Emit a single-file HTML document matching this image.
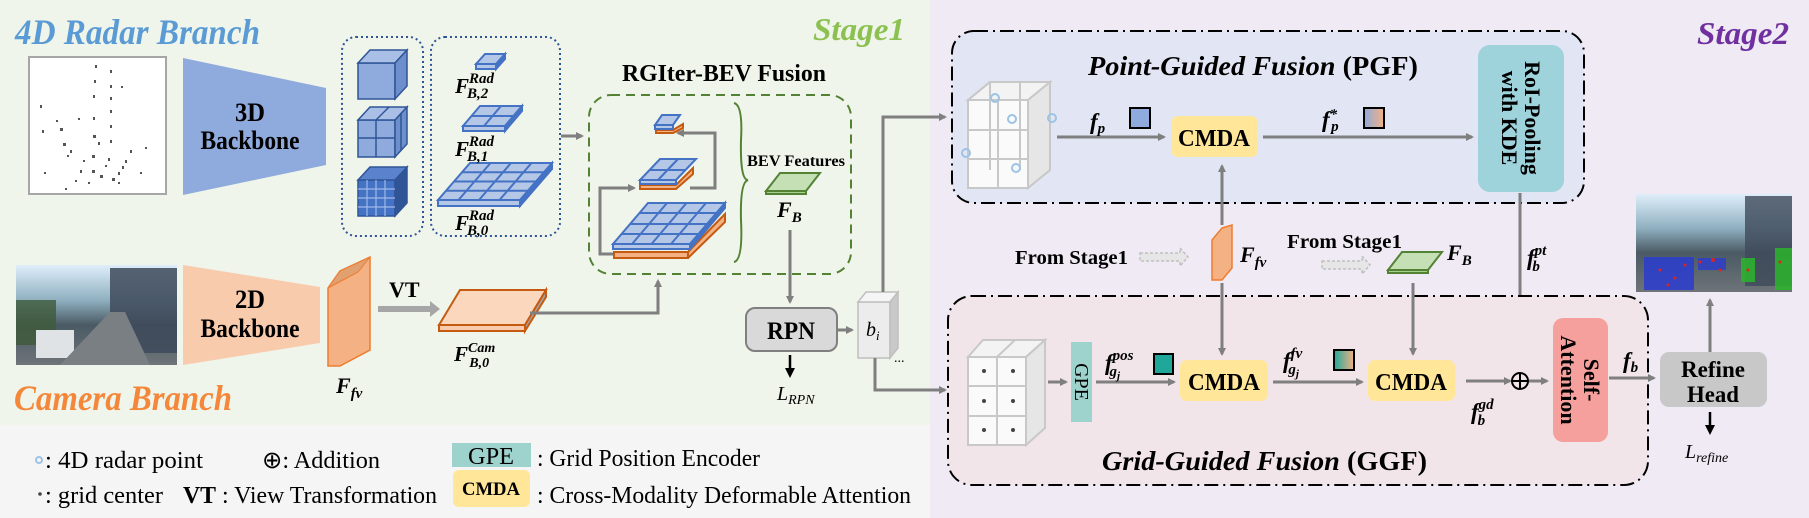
<!DOCTYPE html>
<html><head><meta charset="utf-8"><style>
html,body{margin:0;padding:0;background:#fff}
svg{display:block}
text{font-family:"Liberation Serif",serif}
</style></head><body>
<svg width="1809" height="518" viewBox="0 0 1809 518" xmlns="http://www.w3.org/2000/svg">
<defs>
<marker id="ah" markerWidth="8" markerHeight="8" refX="6" refY="4" orient="auto" markerUnits="userSpaceOnUse"><path d="M0,0 L8,4 L0,8 Z" fill="#7f7f7f"/></marker>
<marker id="ahk" markerWidth="10" markerHeight="10" refX="7" refY="5" orient="auto" markerUnits="userSpaceOnUse"><path d="M0,0 L10,5 L0,10 Z" fill="#000"/></marker>
<linearGradient id="g1" x1="0" x2="1"><stop offset="0" stop-color="#8faadc"/><stop offset="1" stop-color="#f4b183"/></linearGradient>
<linearGradient id="g2" x1="0" x2="1"><stop offset="0" stop-color="#1fa89a"/><stop offset="1" stop-color="#f4b183"/></linearGradient>
<linearGradient id="cam" x1="0" y1="0" x2="0" y2="1"><stop offset="0" stop-color="#dfeefa"/><stop offset="0.35" stop-color="#8fb0c0"/><stop offset="0.6" stop-color="#4a5a64"/><stop offset="1" stop-color="#6e7478"/></linearGradient>
</defs>
<rect x="0" y="0" width="930" height="425" fill="#eff5ea"/>
<rect x="0" y="425" width="930" height="93" fill="#f5f5f5"/>
<rect x="930" y="0" width="879" height="518" fill="#efeaf4"/>

<text x="15" y="44" font-size="36" font-style="italic" font-weight="bold" fill="#5b9bd5" textLength="245" lengthAdjust="spacingAndGlyphs">4D Radar Branch</text>
<text x="14" y="410" font-size="36" font-style="italic" font-weight="bold" fill="#f4873a" textLength="218" lengthAdjust="spacingAndGlyphs">Camera Branch</text>
<text x="813" y="40" font-size="32" font-style="italic" font-weight="bold" fill="#8cc152" textLength="92" lengthAdjust="spacingAndGlyphs">Stage1</text>
<text x="1697" y="44" font-size="32" font-style="italic" font-weight="bold" fill="#7030a0" textLength="92" lengthAdjust="spacingAndGlyphs">Stage2</text>

<rect x="29" y="57" width="137" height="137" fill="#fff" stroke="#a6a6a6" stroke-width="2"/>
<g fill="#555">
<rect x="95" y="65" width="2" height="3"/><rect x="110" y="70" width="2" height="3"/><rect x="94" y="80" width="2" height="3"/><rect x="110" y="85" width="2" height="3"/><rect x="121" y="86" width="2" height="2"/><rect x="93" y="95" width="2" height="3"/><rect x="110" y="97" width="2" height="3"/><rect x="40" y="105" width="2" height="3"/><rect x="110" y="110" width="2" height="3"/><rect x="93" y="117" width="2" height="3"/><rect x="78" y="118" width="2" height="2"/><rect x="60" y="128" width="3" height="3"/><rect x="42" y="130" width="2" height="3"/><rect x="93" y="135" width="3" height="3"/><rect x="110" y="125" width="2" height="3"/><rect x="63" y="143" width="3" height="3"/><rect x="70" y="150" width="2" height="3"/><rect x="98" y="142" width="2" height="3"/><rect x="110" y="140" width="2" height="3"/><rect x="130" y="150" width="2" height="3"/><rect x="145" y="147" width="2" height="2"/><rect x="92" y="155" width="3" height="3"/><rect x="108" y="158" width="2" height="3"/><rect x="125" y="160" width="2" height="3"/><rect x="80" y="170" width="2" height="3"/><rect x="92" y="170" width="3" height="3"/><rect x="100" y="175" width="3" height="3"/><rect x="112" y="178" width="3" height="3"/><rect x="118" y="172" width="2" height="3"/><rect x="122" y="166" width="2" height="3"/><rect x="75" y="180" width="2" height="2"/><rect x="65" y="188" width="2" height="2"/><rect x="44" y="172" width="2" height="2"/><rect x="140" y="172" width="2" height="2"/><rect x="88" y="182" width="2" height="2"/><rect x="105" y="165" width="2" height="2"/><rect x="56" y="120" width="2" height="2"/><rect x="67" y="155" width="2" height="2"/><rect x="83" y="160" width="2" height="2"/><rect x="118" y="182" width="2" height="2"/>
</g>
<polygon points="183,58 326,88 326,165 183,195" fill="#8faadc"/>
<text x="250" y="121" font-size="26" font-weight="bold" text-anchor="middle" textLength="30" lengthAdjust="spacingAndGlyphs">3D</text>
<text x="250" y="149" font-size="26" font-weight="bold" text-anchor="middle" textLength="99" lengthAdjust="spacingAndGlyphs">Backbone</text>
<rect x="16" y="265" width="161" height="100" fill="url(#cam)"/>
<rect x="110" y="268" width="67" height="85" fill="#3e4a5a" opacity="0.85"/>
<rect x="16" y="300" width="40" height="45" fill="#3f5a3a" opacity="0.8"/>
<rect x="36" y="330" width="38" height="28" fill="#dfe3e6"/>
<polygon points="60,365 110,312 125,312 150,365" fill="#7a7f83"/>
<polygon points="183,265 320,287 320,343 183,365" fill="#f8cbad"/>
<text x="250" y="308" font-size="26" font-weight="bold" text-anchor="middle" textLength="30" lengthAdjust="spacingAndGlyphs">2D</text>
<text x="250" y="337" font-size="26" font-weight="bold" text-anchor="middle" textLength="99" lengthAdjust="spacingAndGlyphs">Backbone</text>
<polygon points="328,288 340,271 370,257 370,350 340,366 328,366" fill="#f4b183" stroke="#ed7d31" stroke-width="1.5"/>
<polygon points="328,288 358,272 370,257 340,271" fill="#e0a070" stroke="#ed7d31" stroke-width="1"/>
<text x="336" y="393" font-size="22" font-weight="bold" font-style="italic">F<tspan font-size="15" dy="5">fv</tspan></text>
<text x="389" y="297" font-size="22" font-weight="bold">VT</text>
<line x1="378" y1="309" x2="432" y2="309" stroke="#a6a6a6" stroke-width="6"/>
<polygon points="430,301 440,309 430,317" fill="#a6a6a6"/>
<polygon points="439,325 460,290 546,290 525,325" fill="#fbd7bd" stroke="#c55a11" stroke-width="2"/>
<polygon points="439,325 525,325 525,331 439,331" fill="#f8cbad" stroke="#c55a11" stroke-width="2"/>
<polygon points="525,325 546,290 546,297 525,331" fill="#a6a6a6" stroke="#c55a11" stroke-width="2"/>
<text x="454" y="361" font-size="21" font-weight="bold" font-style="italic">F<tspan font-size="14" dy="-9">Cam</tspan><tspan font-size="14" dx="-26" dy="15">B,0</tspan></text>
<polyline points="530,313 658,313 658,281" fill="none" stroke="#7f7f7f" stroke-width="3" marker-end="url(#ah)"/>

<rect x="342" y="37" width="81" height="199" rx="14" fill="none" stroke="#2f5597" stroke-width="2" stroke-dasharray="2,3"/>
<rect x="431" y="37" width="129" height="199" rx="14" fill="none" stroke="#2f5597" stroke-width="2" stroke-dasharray="2,3"/>
<g stroke="#2f5597" stroke-width="1.5">
<rect x="358" y="63" width="37" height="36" fill="#8faadc"/>
<polygon points="358,63 370,50 407,50 395,63" fill="#a9bfe6"/>
<polygon points="395,63 407,50 407,86 395,99" fill="#6d8fcc"/>
<rect x="358" y="120" width="37" height="37" fill="#8faadc"/>
<polygon points="358,120 370,107 407,107 395,120" fill="#a9bfe6"/>
<polygon points="395,120 407,107 407,144 395,157" fill="#6d8fcc"/>
<line x1="376" y1="120" x2="376" y2="157"/><line x1="358" y1="138" x2="395" y2="138"/><line x1="376" y1="120" x2="389" y2="107"/><line x1="401" y1="113" x2="401" y2="150"/>
<rect x="358" y="180" width="37" height="36" fill="#4472c4"/>
<polygon points="358,180 370,167 407,167 395,180" fill="#5b82cc"/>
<polygon points="395,180 407,167 407,203 395,216" fill="#2f5597"/>
</g>
<g stroke="#9fb8e6" stroke-width="1.2"><line x1="367" y1="180" x2="367" y2="216"/><line x1="376" y1="180" x2="376" y2="216"/><line x1="385" y1="180" x2="385" y2="216"/><line x1="358" y1="189" x2="395" y2="189"/><line x1="358" y1="198" x2="395" y2="198"/><line x1="358" y1="207" x2="395" y2="207"/></g>
<g stroke="#4472c4" stroke-width="2" fill="#b4c7e7">
<polygon points="476,64 496,64 505,54 485,54"/><polygon points="476,64 496,64 496,69 476,69"/><polygon points="496,64 505,54 505,59 496,69" fill="#4472c4"/>
<polygon points="463,126 505,126 522,106 480,106"/><polygon points="463,126 505,126 505,131 463,131"/><polygon points="505,126 522,106 522,111 505,131" fill="#4472c4"/>
<line x1="484" y1="126" x2="501" y2="106"/><line x1="471.5" y1="116" x2="513.5" y2="116"/>
<polygon points="438,200 520,200 552,163 470,163"/><polygon points="438,200 520,200 520,206 438,206"/><polygon points="520,200 552,163 552,169 520,206" fill="#4472c4"/>
<line x1="458.5" y1="200" x2="490.5" y2="163"/><line x1="479" y1="200" x2="511" y2="163"/><line x1="499.5" y1="200" x2="531.5" y2="163"/>
<line x1="446" y1="190.75" x2="528" y2="190.75"/><line x1="454" y1="181.5" x2="536" y2="181.5"/><line x1="462" y1="172.25" x2="544" y2="172.25"/>
</g>
<g font-size="21" font-weight="bold" font-style="italic">
<text x="455" y="93">F<tspan font-size="15" dy="-10">Rad</tspan><tspan font-size="15" dx="-27" dy="15">B,2</tspan></text>
<text x="455" y="156">F<tspan font-size="15" dy="-10">Rad</tspan><tspan font-size="15" dx="-27" dy="15">B,1</tspan></text>
<text x="455" y="230">F<tspan font-size="15" dy="-10">Rad</tspan><tspan font-size="15" dx="-27" dy="15">B,0</tspan></text>
</g>
<line x1="561" y1="136" x2="582" y2="136" stroke="#7f7f7f" stroke-width="3" marker-end="url(#ah)"/>

<text x="622" y="81" font-size="24" font-weight="bold" textLength="204" lengthAdjust="spacingAndGlyphs">RGIter-BEV Fusion</text>
<rect x="589" y="95" width="262" height="179" rx="22" fill="none" stroke="#548235" stroke-width="2" stroke-dasharray="9,6"/>
<polyline points="614,254 600,254 600,188 634,188" fill="none" stroke="#7f7f7f" stroke-width="3" marker-end="url(#ah)"/>
<polyline points="690,188 715,188 715,133 678,133" fill="none" stroke="#7f7f7f" stroke-width="3" marker-end="url(#ah)"/>
<g stroke="#c55a11" stroke-width="2" fill="#f4b183">
<polygon points="614,252 688,252 725,214 725,222 688,258 614,258"/>
<rect x="614" y="252" width="74" height="6"/>
<polygon points="640,185 676,185 693,168 693,174 676,189 640,189"/>
<polygon points="656,130 673,130 683,124 683,128 673,133 656,133"/>
</g>
<g stroke="#4472c4" stroke-width="2" fill="#b4c7e7">
<polygon points="613,244 690,244 725,203 648,203"/><rect x="613" y="244" width="77" height="5"/><polygon points="690,244 725,203 725,208 690,249" fill="#4472c4"/>
<line x1="632" y1="244" x2="667" y2="203"/><line x1="651.5" y1="244" x2="686.5" y2="203"/><line x1="671" y1="244" x2="706" y2="203"/>
<line x1="622" y1="234" x2="699" y2="234"/><line x1="630" y1="224" x2="707" y2="224"/><line x1="639" y1="213" x2="716" y2="213"/>
<polygon points="640,180 676,180 696,159 660,159"/><rect x="640" y="180" width="36" height="4"/><line x1="658" y1="180" x2="678" y2="159"/><line x1="650" y1="170" x2="686" y2="170"/>
<polygon points="655,125 673,125 680,115 662,115"/><rect x="655" y="125" width="18" height="4"/>
</g>
<path d="M734,103 Q743,105 741,140 Q740,180 748,180 Q740,182 741,220 Q743,260 734,262" fill="none" stroke="#548235" stroke-width="2"/>
<text x="747" y="166" font-size="16" font-weight="bold" textLength="98" lengthAdjust="spacingAndGlyphs">BEV Features</text>
<polygon points="766,191 780,173 820,173 806,191" fill="#c5e0b4" stroke="#548235" stroke-width="2"/>
<polygon points="766,191 806,191 806,194 766,194" fill="#a9d18e" stroke="#548235" stroke-width="2"/>
<text x="777" y="217" font-size="22" font-weight="bold" font-style="italic">F<tspan font-size="15" dy="5">B</tspan></text>
<line x1="790" y1="230" x2="790" y2="302" stroke="#7f7f7f" stroke-width="3" marker-end="url(#ah)"/>
<rect x="746" y="308" width="91" height="43" rx="9" fill="#d9d9d9" stroke="#7f7f7f" stroke-width="2"/>
<text x="791" y="339" font-size="25" font-weight="bold" text-anchor="middle" textLength="48" lengthAdjust="spacingAndGlyphs">RPN</text>
<line x1="790" y1="355" x2="790" y2="375" stroke="#000" stroke-width="2.5" marker-end="url(#ahk)"/>
<text x="777" y="400" font-size="20" font-style="italic">L<tspan font-size="14" dy="4">RPN</tspan></text>
<line x1="837" y1="330" x2="852" y2="330" stroke="#7f7f7f" stroke-width="3" marker-end="url(#ah)"/>
<rect x="858" y="302" width="32" height="56" fill="#ececec" stroke="#bfbfbf" stroke-width="1.5"/>
<polygon points="858,302 866,292 898,292 890,302" fill="#f5f5f5" stroke="#bfbfbf" stroke-width="1.5"/>
<polygon points="890,302 898,292 898,348 890,358" fill="#c9c9c9" stroke="#bfbfbf" stroke-width="1.5"/>
<text x="866" y="336" font-size="20" font-style="italic">b<tspan font-size="13" dy="4">i</tspan></text>
<text x="894" y="362" font-size="14">...</text>
<polyline points="883,292 883,117 945,117" fill="none" stroke="#7f7f7f" stroke-width="3" marker-end="url(#ah)"/>
<polyline points="875,358 875,390 945,390" fill="none" stroke="#7f7f7f" stroke-width="3" marker-end="url(#ah)"/>

<rect x="952" y="31" width="632" height="172" rx="22" fill="#e2e5f3" stroke="#000" stroke-width="2" stroke-dasharray="14,5,2,5"/>
<text x="1088" y="75" font-size="27" font-weight="bold" textLength="330" lengthAdjust="spacingAndGlyphs"><tspan font-style="italic">Point-Guided Fusion</tspan> (PGF)</text>
<g fill="#fafafa" stroke="#c8c8c8" stroke-width="2">
<rect x="968" y="100" width="60" height="88"/>
<polygon points="968,100 990,82 1050,82 1028,100" fill="#f3f3f3"/>
<polygon points="1028,100 1050,82 1050,170 1028,188" fill="#e6e6e6"/>
<line x1="998" y1="100" x2="998" y2="188"/><line x1="968" y1="130" x2="1028" y2="130"/><line x1="968" y1="159" x2="1028" y2="159"/><line x1="990" y1="82" x2="990" y2="170"/><line x1="1020" y1="82" x2="1020" y2="170"/><line x1="968" y1="100" x2="990" y2="82"/>
</g>
<g fill="none" stroke="#9dc3e6" stroke-width="2"><circle cx="995" cy="98" r="4"/><circle cx="1012" cy="119" r="4"/><circle cx="1052" cy="118" r="4"/><circle cx="966" cy="153" r="4"/><circle cx="1016" cy="168" r="4"/></g>
<line x1="1057" y1="137" x2="1164" y2="137" stroke="#7f7f7f" stroke-width="3" marker-end="url(#ah)"/>
<text x="1090" y="129" font-size="23" font-weight="bold" font-style="italic">f<tspan font-size="15" dy="4">p</tspan></text>
<rect x="1130" y="108" width="20" height="20" fill="#8faadc" stroke="#000" stroke-width="2"/>
<rect x="1171" y="116" width="87" height="41" rx="7" fill="#ffe699"/>
<text x="1214" y="146" font-size="24" font-weight="bold" text-anchor="middle" textLength="72" lengthAdjust="spacingAndGlyphs">CMDA</text>
<line x1="1263" y1="137" x2="1472" y2="137" stroke="#7f7f7f" stroke-width="3" marker-end="url(#ah)"/>
<text x="1322" y="127" font-size="23" font-weight="bold" font-style="italic">f<tspan font-size="15" dy="-8">*</tspan><tspan font-size="15" dx="-6" dy="12">p</tspan></text>
<rect x="1364" y="108" width="20" height="20" fill="url(#g1)" stroke="#000" stroke-width="2"/>
<rect x="1478" y="45" width="86" height="147" rx="12" fill="#9ed3dc"/>
<g transform="translate(1521,118) rotate(90)" font-weight="bold">
<text x="0" y="-4" text-anchor="middle" font-size="22">RoI-Pooling</text>
<text x="0" y="19" text-anchor="middle" font-size="22">with KDE</text>
</g>
<line x1="1520" y1="193" x2="1520" y2="372" stroke="#7f7f7f" stroke-width="3" marker-end="url(#ah)"/>
<text x="1527" y="265" font-size="23" font-weight="bold" font-style="italic">f<tspan font-size="15" dy="-10">pt</tspan><tspan font-size="15" dx="-14" dy="16">b</tspan></text>

<text x="1015" y="264" font-size="20" font-weight="bold" textLength="113" lengthAdjust="spacingAndGlyphs">From Stage1</text>
<g fill="#e6e6e6" stroke="#bfbfbf" stroke-width="1.5" stroke-dasharray="3,2"><polygon points="1140,253 1180,253 1180,248 1188,257 1180,266 1180,261 1140,261"/></g>
<polygon points="1212,240 1222,228 1232,225 1232,268 1222,280 1212,280" fill="#f4b183" stroke="#ed7d31" stroke-width="1.5"/>
<text x="1240" y="262" font-size="22" font-weight="bold" font-style="italic">F<tspan font-size="15" dy="5">fv</tspan></text>
<text x="1287" y="248" font-size="20" font-weight="bold" textLength="115" lengthAdjust="spacingAndGlyphs">From Stage1</text>
<g fill="#e6e6e6" stroke="#bfbfbf" stroke-width="1.5" stroke-dasharray="3,2"><polygon points="1322,261 1362,261 1362,256 1370,265 1362,274 1362,269 1322,269"/></g>
<polygon points="1388,270 1402,252 1442,252 1428,270" fill="#c5e0b4" stroke="#548235" stroke-width="2"/>
<polygon points="1388,270 1428,270 1428,273 1388,273" fill="#a9d18e" stroke="#548235" stroke-width="2"/>
<text x="1447" y="260" font-size="22" font-weight="bold" font-style="italic">F<tspan font-size="15" dy="5">B</tspan></text>
<line x1="1222" y1="225" x2="1222" y2="166" stroke="#7f7f7f" stroke-width="3" marker-end="url(#ah)"/>

<rect x="948" y="296" width="700" height="189" rx="24" fill="#f2e5ea" stroke="#000" stroke-width="2" stroke-dasharray="14,5,2,5"/>
<line x1="1222" y1="283" x2="1222" y2="354" stroke="#7f7f7f" stroke-width="3" marker-end="url(#ah)"/>
<line x1="1413" y1="283" x2="1413" y2="354" stroke="#7f7f7f" stroke-width="3" marker-end="url(#ah)"/>
<g fill="#fafafa" stroke="#c8c8c8" stroke-width="2">
<rect x="968" y="357" width="58" height="88"/>
<polygon points="968,357 983,340 1045,340 1026,357" fill="#f3f3f3"/>
<polygon points="1026,357 1045,340 1045,428 1026,445" fill="#e6e6e6"/>
<line x1="997" y1="357" x2="997" y2="445"/><line x1="968" y1="386" x2="1026" y2="386"/><line x1="968" y1="416" x2="1026" y2="416"/><line x1="997" y1="357" x2="1015" y2="340"/>
</g>
<g fill="#444"><circle cx="984" cy="371" r="2"/><circle cx="1013" cy="371" r="2"/><circle cx="984" cy="401" r="2"/><circle cx="1013" cy="401" r="2"/><circle cx="984" cy="430" r="2"/><circle cx="1013" cy="430" r="2"/></g>
<line x1="1048" y1="382" x2="1066" y2="382" stroke="#7f7f7f" stroke-width="3" marker-end="url(#ah)"/>
<rect x="1071" y="342" width="21" height="80" fill="#9ed3cd"/>
<text transform="translate(1075,382) rotate(90)" font-size="20" text-anchor="middle">GPE</text>
<line x1="1096" y1="382" x2="1174" y2="382" stroke="#7f7f7f" stroke-width="3" marker-end="url(#ah)"/>
<text x="1105" y="370" font-size="23" font-weight="bold" font-style="italic">f<tspan font-size="15" dy="-10">pos</tspan><tspan font-size="15" dx="-24" dy="16">g</tspan><tspan font-size="11" dy="3">j</tspan></text>
<rect x="1154" y="354" width="19" height="20" fill="#1fa89a" stroke="#000" stroke-width="2"/>
<rect x="1180" y="360" width="88" height="41" rx="7" fill="#ffe699"/>
<text x="1224" y="390" font-size="24" font-weight="bold" text-anchor="middle" textLength="72" lengthAdjust="spacingAndGlyphs">CMDA</text>
<line x1="1273" y1="382" x2="1362" y2="382" stroke="#7f7f7f" stroke-width="3" marker-end="url(#ah)"/>
<text x="1283" y="368" font-size="23" font-weight="bold" font-style="italic">f<tspan font-size="15" dy="-10">fv</tspan><tspan font-size="15" dx="-14" dy="16">g</tspan><tspan font-size="11" dy="3">j</tspan></text>
<rect x="1334" y="350" width="20" height="20" fill="url(#g2)" stroke="#000" stroke-width="2"/>
<rect x="1368" y="360" width="87" height="41" rx="7" fill="#ffe699"/>
<text x="1411" y="390" font-size="24" font-weight="bold" text-anchor="middle" textLength="72" lengthAdjust="spacingAndGlyphs">CMDA</text>
<line x1="1466" y1="381" x2="1510" y2="381" stroke="#7f7f7f" stroke-width="3" marker-end="url(#ah)"/>
<text x="1471" y="419" font-size="23" font-weight="bold" font-style="italic">f<tspan font-size="15" dy="-10">gd</tspan><tspan font-size="15" dx="-16" dy="16">b</tspan></text>
<circle cx="1520" cy="381" r="8" fill="none" stroke="#000" stroke-width="2"/>
<line x1="1512" y1="381" x2="1528" y2="381" stroke="#000" stroke-width="2"/><line x1="1520" y1="373" x2="1520" y2="389" stroke="#000" stroke-width="2"/>
<line x1="1529" y1="381" x2="1547" y2="381" stroke="#7f7f7f" stroke-width="3" marker-end="url(#ah)"/>
<rect x="1553" y="318" width="55" height="124" rx="10" fill="#f5a09c"/>
<g transform="translate(1580,380) rotate(90)" font-size="22" font-weight="bold">
<text x="0" y="-4" text-anchor="middle">Self-</text>
<text x="0" y="19" text-anchor="middle">Attention</text>
</g>
<text x="1102" y="470" font-size="27" font-weight="bold" textLength="325" lengthAdjust="spacingAndGlyphs"><tspan font-style="italic">Grid-Guided Fusion</tspan> (GGF)</text>
<line x1="1609" y1="378" x2="1654" y2="378" stroke="#7f7f7f" stroke-width="3" marker-end="url(#ah)"/>
<text x="1623" y="368" font-size="23" font-weight="bold" font-style="italic">f<tspan font-size="15" dy="4">b</tspan></text>
<rect x="1660" y="352" width="107" height="55" rx="9" fill="#c8c8c8"/>
<text x="1713" y="377" font-size="23" font-weight="bold" text-anchor="middle" textLength="64" lengthAdjust="spacingAndGlyphs">Refine</text>
<text x="1713" y="402" font-size="23" font-weight="bold" text-anchor="middle" textLength="52" lengthAdjust="spacingAndGlyphs">Head</text>
<line x1="1710" y1="352" x2="1710" y2="300" stroke="#7f7f7f" stroke-width="3" marker-end="url(#ah)"/>
<line x1="1710" y1="412" x2="1710" y2="432" stroke="#000" stroke-width="2.5" marker-end="url(#ahk)"/>
<text x="1685" y="458" font-size="20" font-style="italic">L<tspan font-size="14" dy="4">refine</tspan></text>
<rect x="1636" y="194" width="156" height="98" fill="url(#cam)"/>
<rect x="1745" y="196" width="47" height="90" fill="#3e4a5a" opacity="0.8"/>
<rect x="1644" y="257" width="50" height="33" fill="#2a3cd0" opacity="0.85"/>
<rect x="1698" y="258" width="28" height="12" fill="#2a3cd0" opacity="0.8"/>
<rect x="1741" y="258" width="14" height="24" fill="#2bb52b" opacity="0.85"/>
<rect x="1775" y="248" width="17" height="42" fill="#2bb52b" opacity="0.85"/>
<g fill="#d22"><circle cx="1660" cy="270" r="1.5"/><circle cx="1675" cy="278" r="1.5"/><circle cx="1685" cy="265" r="1.5"/><circle cx="1700" cy="262" r="1.5"/><circle cx="1720" cy="270" r="1.5"/><circle cx="1748" cy="270" r="1.5"/><circle cx="1780" cy="262" r="1.5"/><circle cx="1668" cy="285" r="1.5"/><circle cx="1713" cy="260" r="2"/></g>

<circle cx="39" cy="460" r="3" fill="none" stroke="#9dc3e6" stroke-width="2"/>
<text x="45" y="468" font-size="24" textLength="158" lengthAdjust="spacingAndGlyphs">: 4D radar point</text>
<text x="262" y="468" font-size="24" textLength="118" lengthAdjust="spacingAndGlyphs">⊕: Addition</text>
<rect x="452" y="443" width="79" height="24" fill="#9ed3cd"/>
<text x="491" y="464" font-size="24" text-anchor="middle" textLength="46" lengthAdjust="spacingAndGlyphs">GPE</text>
<text x="537" y="466" font-size="24" textLength="223" lengthAdjust="spacingAndGlyphs">: Grid Position Encoder</text>
<circle cx="40" cy="494" r="1.8" fill="#444"/>
<text x="45" y="503" font-size="24" textLength="118" lengthAdjust="spacingAndGlyphs">: grid center</text>
<text x="183" y="503" font-size="24" textLength="254" lengthAdjust="spacingAndGlyphs"><tspan font-weight="bold">VT</tspan> : View Transformation</text>
<rect x="453" y="470" width="77" height="37" rx="6" fill="#ffe699"/>
<text x="491" y="495" font-size="19" font-weight="bold" text-anchor="middle" textLength="58" lengthAdjust="spacingAndGlyphs">CMDA</text>
<text x="537" y="503" font-size="24" textLength="374" lengthAdjust="spacingAndGlyphs">: Cross-Modality Deformable Attention</text>
</svg>
</body></html>
